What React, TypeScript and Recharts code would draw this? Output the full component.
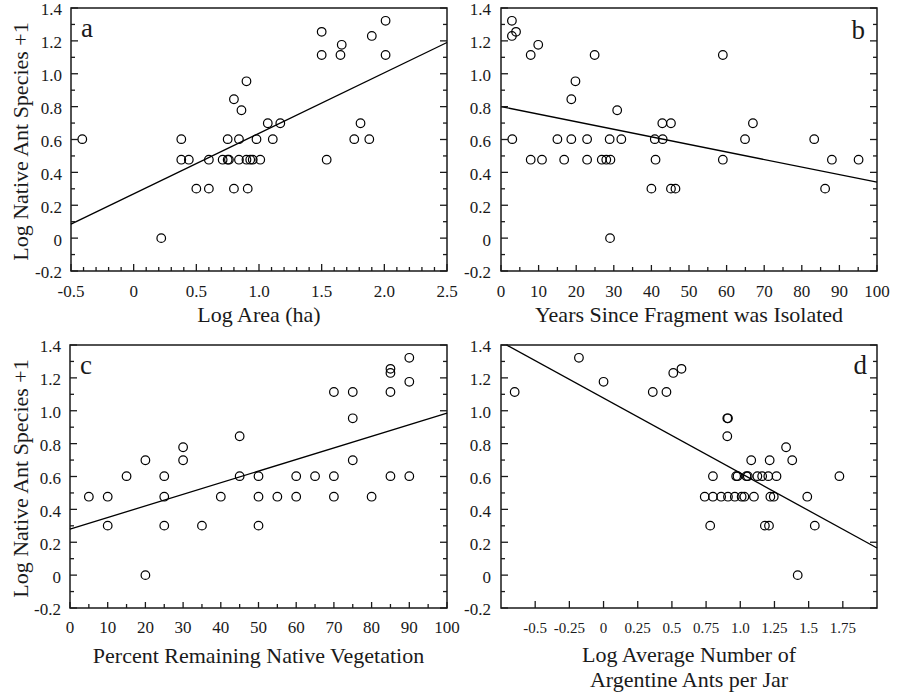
import {
  ScatterChart,
  Scatter,
  XAxis,
  YAxis,
  ReferenceArea,
  ReferenceLine,
} from "recharts";

const FONT = "'Liberation Serif', 'Times New Roman', Times, serif";
const INK = "#1a1a1a";

// ─── Shared y axis: log(native ant species + 1)
const yDomain: [number, number] = [-0.2, 1.4];
const yMajor = [-0.2, 0, 0.2, 0.4, 0.6, 0.8, 1.0, 1.2, 1.4];
const yLabels = ["-0.2", "0", "0.2", "0.4", "0.6", "0.8", "1.0", "1.2", "1.4"];

// ─── a: log area
const areaMajor = [-0.5, 0, 0.5, 1.0, 1.5, 2.0, 2.5];
const areaLabels = ["-0.5", "0", "0.5", "1.0", "1.5", "2.0", "2.5"];
const areaPts: [number, number][] = [
  [-0.41, 0.602], [0.22, 0], [0.38, 0.602], [0.38, 0.477], [0.44, 0.477],
  [0.5, 0.301], [0.6, 0.477], [0.6, 0.301], [0.71, 0.477], [0.75, 0.602],
  [0.75, 0.477], [0.76, 0.477], [0.8, 0.845], [0.8, 0.301], [0.84, 0.602],
  [0.84, 0.477], [0.86, 0.778], [0.9, 0.954], [0.91, 0.301], [0.9, 0.477],
  [0.93, 0.477], [0.95, 0.477], [0.98, 0.602], [1.01, 0.477], [1.07, 0.699],
  [1.11, 0.602], [1.17, 0.699], [1.5, 1.255], [1.5, 1.114], [1.54, 0.477],
  [1.66, 1.176], [1.65, 1.114], [1.76, 0.602], [1.81, 0.699], [1.88, 0.602],
  [1.9, 1.23], [2.01, 1.322], [2.01, 1.114],
];
const areaFit: [number, number][] = [[-0.5, 0.085], [2.5, 1.19]];

// ─── b: years since isolation
const yearsMajor = [0, 10, 20, 30, 40, 50, 60, 70, 80, 90, 100];
const yearsLabels = ["0", "10", "20", "30", "40", "50", "60", "70", "80", "90", "100"];
const yearsPts: [number, number][] = [
  [2.9, 1.322], [2.9, 1.23], [4.0, 1.255], [3.0, 0.602], [7.9, 1.114],
  [7.9, 0.477], [9.9, 1.176], [10.9, 0.477], [15, 0.602], [16.8, 0.477],
  [18.7, 0.845], [18.7, 0.602], [19.8, 0.954], [22.9, 0.602], [22.9, 0.477],
  [24.9, 1.114], [26.8, 0.477], [28, 0.477], [29.1, 0.477], [28.9, 0.602],
  [29, 0], [30.9, 0.778], [32, 0.602], [40, 0.301], [40.9, 0.602],
  [41.1, 0.477], [42.9, 0.699], [43, 0.602], [45.2, 0.699], [45.2, 0.301],
  [46.4, 0.301], [59, 1.114], [59, 0.477], [64.9, 0.602], [67, 0.699],
  [83.3, 0.602], [86.2, 0.301], [88, 0.477], [95.1, 0.477],
];
const yearsFit: [number, number][] = [[0, 0.8], [100, 0.34]];

// ─── c: percent remaining native vegetation
const vegMajor = [0, 10, 20, 30, 40, 50, 60, 70, 80, 90, 100];
const vegLabels = ["0", "10", "20", "30", "40", "50", "60", "70", "80", "90", "100"];
const vegPts: [number, number][] = [
  [5, 0.477], [10, 0.477], [10, 0.301], [15, 0.602], [20, 0.699], [20, 0],
  [25, 0.602], [25, 0.477], [25, 0.301], [30, 0.778], [30, 0.699], [35, 0.301],
  [40, 0.477], [45, 0.845], [45, 0.602], [50, 0.602], [50, 0.477], [50, 0.301],
  [55, 0.477], [60, 0.602], [60, 0.477], [65, 0.602], [70, 1.114], [70, 0.602],
  [70, 0.477], [75, 1.114], [75, 0.954], [75, 0.699], [80, 0.477], [85, 1.255],
  [85, 1.23], [85, 1.114], [85, 0.602], [90, 1.322], [90, 1.176], [90, 0.602],
];
const vegFit: [number, number][] = [[0, 0.28], [100, 0.985]];

// ─── d: log average Argentine ants per jar
const antsMajor = [-0.5, -0.25, 0, 0.25, 0.5, 0.75, 1.0, 1.25, 1.5, 1.75];
const antsLabels = ["-0.5", "-0.25", "0", "0.25", "0.5", "0.75", "1.0", "1.25", "1.5", "1.75"];
const antsPts: [number, number][] = [
  [-0.65, 1.114], [-0.18, 1.322], [0, 1.176], [0.36, 1.114], [0.46, 1.114],
  [0.51, 1.23], [0.57, 1.255], [0.905, 0.954], [0.91, 0.954], [0.905, 0.845],
  [0.74, 0.477], [0.78, 0.301], [0.8, 0.602], [0.8, 0.477], [0.86, 0.477],
  [0.91, 0.477], [0.96, 0.477], [0.97, 0.602], [0.98, 0.602], [1.01, 0.477],
  [1.03, 0.477], [1.045, 0.602], [1.055, 0.602], [1.08, 0.699], [1.1, 0.477],
  [1.125, 0.602], [1.16, 0.602], [1.18, 0.301], [1.21, 0.301], [1.205, 0.602],
  [1.215, 0.699], [1.22, 0.477], [1.245, 0.477], [1.265, 0.602], [1.335, 0.778],
  [1.38, 0.699], [1.42, 0], [1.49, 0.477], [1.545, 0.301], [1.725, 0.602],
];
const antsFit: [number, number][] = [[-0.71, 1.4], [2.0, 0.165]];

const span = (from: number, to: number, step: number) => {
  const n = Math.round((to - from) / step);
  return Array.from({ length: n + 1 }, (_, i) => Number((from + i * step).toFixed(3)));
};

const labelOf = (major: number[], labels: string[], v: number) => {
  const i = major.findIndex((m) => Math.abs(m - v) < 1e-6);
  return i < 0 ? null : labels[i];
};

// bottom ticks point up into the plot; only major ticks carry a label
const makeXTick =
  (major: number[], labels: string[], majorLen: number, minorLen: number, fontSize: number, dy: number) =>
  (props: any) => {
    const { x, y, payload } = props;
    const label = labelOf(major, labels, payload.value);
    const len = label === null ? minorLen : majorLen;
    return (
      <g>
        <line x1={x} x2={x} y1={y} y2={y - len} stroke={INK} strokeWidth={1.3} />
        {label !== null && (
          <text x={x} y={y + dy} textAnchor="middle" fontSize={fontSize} fill={INK}>
            {label}
          </text>
        )}
      </g>
    );
  };

// left and right ticks both point inward
const makeYTick = (plotW: number, gap: number) => (props: any) => {
  const { x, y, payload } = props;
  const label = labelOf(yMajor, yLabels, payload.value);
  const len = label === null ? 4 : 7;
  return (
    <g>
      <line x1={x} x2={x + len} y1={y} y2={y} stroke={INK} strokeWidth={1.3} />
      <line x1={x + plotW} x2={x + plotW - len} y1={y} y2={y} stroke={INK} strokeWidth={1.3} />
      {label !== null && (
        <text x={x - gap} y={y + 1.5} dy="0.35em" textAnchor="end" fontSize={17} fill={INK}>
          {label}
        </text>
      )}
    </g>
  );
};

const Ring = (props: any) => (
  <circle cx={props.cx} cy={props.cy} r={4.3} fill="none" stroke="#000" strokeWidth={1.2} />
);

const renderYTitle = ({ viewBox }: any) => {
  const cx = 28;
  const cy = viewBox.y + viewBox.height / 2 + 2;
  return (
    <text x={cx} y={cy} transform={`rotate(-90 ${cx} ${cy})`} textAnchor="middle" fontSize={22} fill={INK}>
      Log Native Ant Species +1
    </text>
  );
};

type PanelProps = {
  left: number;
  top: number;
  width: number;
  height: number;
  yWidth: number;
  plotW: number;
  plotH: number;
  xDomain: [number, number];
  xTicks: number[];
  xMajor: number[];
  xLabels: string[];
  xMajorLen: number;
  xMinorLen: number;
  xFont: number;
  xLabelDy: number;
  yGap: number;
  points: [number, number][];
  fit: [number, number][];
  letter: string;
  letterPos: "insideTopLeft" | "insideTopRight";
  letterOffset: number;
  title: string[];
  titleDy: number;
  showYTitle?: boolean;
};

const Panel = (p: PanelProps) => {
  const marginTop = 8;
  const data = p.points.map(([x, y]) => ({ x, y }));
  const renderXTitle = ({ viewBox }: any) => (
    <text textAnchor="middle" fontSize={22} fill={INK}>
      {p.title.map((line, i) => (
        <tspan key={line} x={viewBox.x + viewBox.width / 2} y={viewBox.y + p.titleDy + i * 25}>
          {line}
        </tspan>
      ))}
    </text>
  );
  return (
    <div style={{ position: "absolute", left: p.left, top: p.top }}>
      <ScatterChart
        width={p.width}
        height={p.height}
        margin={{ top: marginTop, right: p.width - p.yWidth - p.plotW, bottom: 0, left: 0 }}
      >
        <XAxis
          type="number"
          dataKey="x"
          domain={p.xDomain}
          ticks={p.xTicks}
          interval={0}
          allowDataOverflow
          axisLine={false}
          tickLine={false}
          tickSize={0}
          tickMargin={0}
          height={p.height - marginTop - p.plotH}
          tick={makeXTick(p.xMajor, p.xLabels, p.xMajorLen, p.xMinorLen, p.xFont, p.xLabelDy)}
          label={{ content: renderXTitle }}
        />
        <YAxis
          type="number"
          dataKey="y"
          domain={yDomain}
          ticks={span(-0.2, 1.4, 0.1)}
          interval={0}
          allowDataOverflow
          axisLine={false}
          tickLine={false}
          tickSize={0}
          tickMargin={0}
          width={p.yWidth}
          tick={makeYTick(p.plotW, p.yGap)}
          label={p.showYTitle ? { content: renderYTitle } : undefined}
        />
        <ReferenceArea
          x1={p.xDomain[0]}
          x2={p.xDomain[1]}
          y1={yDomain[0]}
          y2={yDomain[1]}
          fill="none"
          stroke={INK}
          strokeWidth={1.5}
          ifOverflow="visible"
          label={{ value: p.letter, position: p.letterPos, offset: p.letterOffset, fontSize: 27, fill: INK }}
        />
        <ReferenceLine
          segment={p.fit.map(([x, y]) => ({ x, y }))}
          stroke="#000"
          strokeWidth={1.3}
          ifOverflow="visible"
        />
        <Scatter data={data} shape={Ring} isAnimationActive={false} />
      </ScatterChart>
    </div>
  );
};

export default function App() {
  return (
    <div
      style={{
        position: "absolute",
        left: 0,
        top: 0,
        width: 897,
        height: 695,
        background: "#fff",
        fontFamily: FONT,
      }}
    >
      <Panel
        left={0} top={0} width={460} height={345} yWidth={71} plotW={376} plotH={263}
        xDomain={[-0.5, 2.5]} xTicks={span(-0.5, 2.5, 0.1)} xMajor={areaMajor} xLabels={areaLabels}
        xMajorLen={7} xMinorLen={4} xFont={17} xLabelDy={26} yGap={9}
        points={areaPts} fit={areaFit} letter="a" letterPos="insideTopLeft" letterOffset={10}
        title={["Log Area (ha)"]} titleDy={51} showYTitle
      />
      <Panel
        left={440} top={0} width={450} height={345} yWidth={61} plotW={376} plotH={263}
        xDomain={[0, 100]} xTicks={span(0, 100, 5)} xMajor={yearsMajor} xLabels={yearsLabels}
        xMajorLen={6} xMinorLen={4} xFont={17} xLabelDy={26} yGap={10}
        points={yearsPts} fit={yearsFit} letter="b" letterPos="insideTopRight" letterOffset={12}
        title={["Years Since Fragment was Isolated"]} titleDy={51}
      />
      <Panel
        left={0} top={337} width={460} height={358} yWidth={70} plotW={377} plotH={263}
        xDomain={[0, 100]} xTicks={span(0, 100, 5)} xMajor={vegMajor} xLabels={vegLabels}
        xMajorLen={6} xMinorLen={4} xFont={17} xLabelDy={25} yGap={9}
        points={vegPts} fit={vegFit} letter="c" letterPos="insideTopLeft" letterOffset={10}
        title={["Percent Remaining Native Vegetation"]} titleDy={55} showYTitle
      />
      <Panel
        left={440} top={337} width={450} height={358} yWidth={61} plotW={376} plotH={263}
        xDomain={[-0.75, 2.0]} xTicks={antsMajor} xMajor={antsMajor} xLabels={antsLabels}
        xMajorLen={7} xMinorLen={7} xFont={15} xLabelDy={25} yGap={10}
        points={antsPts} fit={antsFit} letter="d" letterPos="insideTopRight" letterOffset={10}
        title={["Log Average Number of", "Argentine Ants per Jar"]} titleDy={54}
      />
    </div>
  );
}
